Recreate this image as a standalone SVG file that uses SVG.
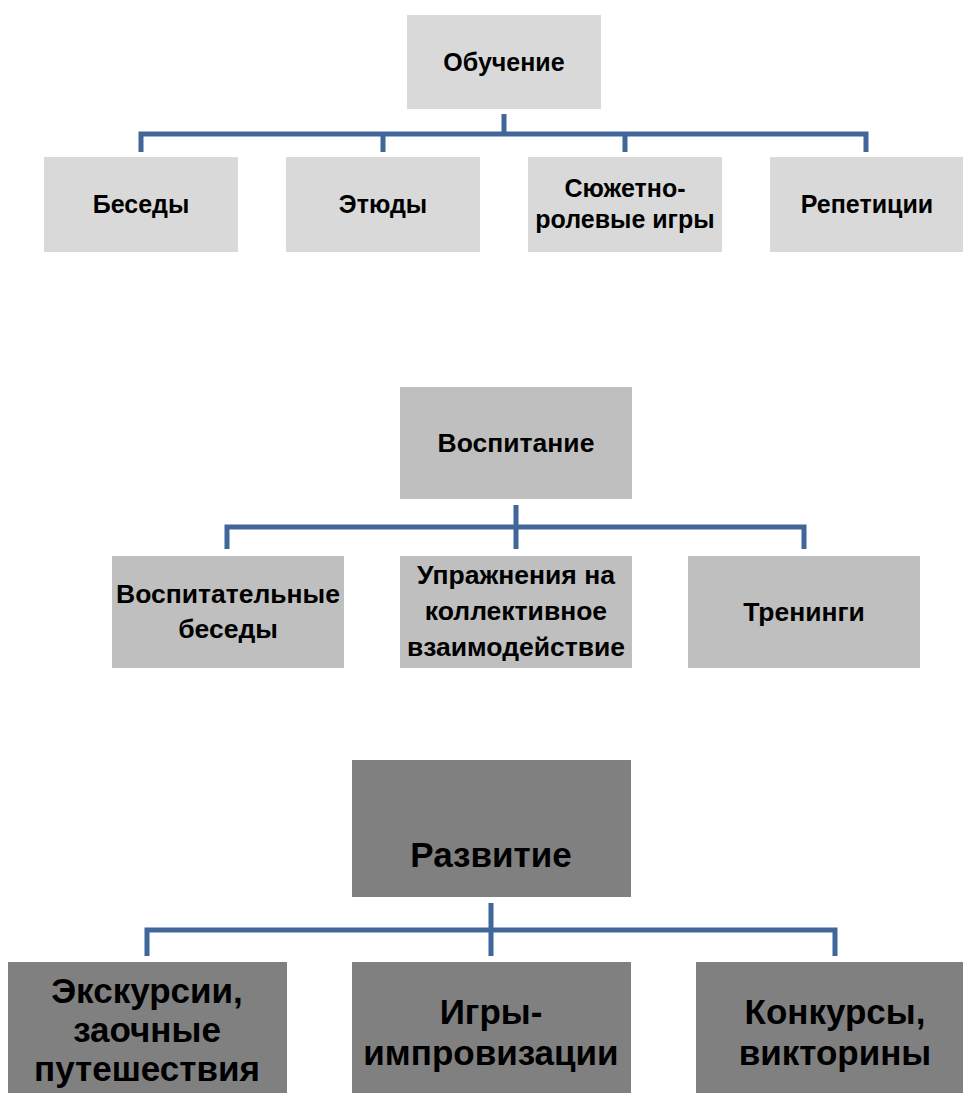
<svg xmlns="http://www.w3.org/2000/svg" width="963" height="1093" viewBox="0 0 963 1093">
<style>
.l1{fill:#D9D9D9}
.l2{fill:#BFBFBF}
.l3{fill:#808080}
.t{font-family:"Liberation Sans",Arial,sans-serif;font-weight:bold;fill:#000;text-anchor:middle}
.s1{font-size:25px}
.s2{font-size:26.5px}
.s3{font-size:35px}
.c{fill:none;stroke:#41679A;stroke-width:5;stroke-linejoin:miter;stroke-linecap:butt}
</style>
<rect width="963" height="1093" fill="#FFFFFF"/>
<g id="connectors">
<path class="c" d="M504 114V134M141 152V134H866V152M383 134V152M625 134V152"/>
<path class="c" d="M516 505V527M227 549V527H804V549M516 527V549"/>
<path class="c" d="M491 903V930M147 956V930H835V956M491 930V956"/>
</g>
<g id="obuchenie"><rect class="l1" x="407" y="15" width="194" height="94"/><text class="t s1" x="504" y="71">Обучение</text></g>
<g id="besedy"><rect class="l1" x="44" y="157" width="194" height="95"/><text class="t s1" x="141" y="213">Беседы</text></g>
<g id="etyudy"><rect class="l1" x="286" y="157" width="194" height="95"/><text class="t s1" x="383" y="213">Этюды</text></g>
<g id="syuzhetno"><rect class="l1" x="528" y="157" width="194" height="95"/><text class="t s1" x="625" y="197">Сюжетно-</text><text class="t s1" x="625" y="228">ролевые игры</text></g>
<g id="repeticii"><rect class="l1" x="770" y="157" width="194" height="95"/><text class="t s1" x="867" y="213">Репетиции</text></g>
<g id="vospitanie"><rect class="l2" x="400" y="387" width="232" height="112"/><text class="t s2" x="516" y="452">Воспитание</text></g>
<g id="vosp-besedy"><rect class="l2" x="112" y="556" width="232" height="112"/><text class="t s2" x="228" y="603">Воспитательные</text><text class="t s2" x="228" y="638">беседы</text></g>
<g id="uprazhneniya"><rect class="l2" x="400" y="556" width="232" height="112"/><text class="t s2" x="516" y="584">Упражнения на</text><text class="t s2" x="516" y="620">коллективное</text><text class="t s2" x="516" y="656">взаимодействие</text></g>
<g id="treningi"><rect class="l2" x="688" y="556" width="232" height="112"/><text class="t s2" x="804" y="621">Тренинги</text></g>
<g id="razvitie"><rect class="l3" x="352" y="760" width="279" height="137"/><text class="t s3" x="491" y="867">Развитие</text></g>
<g id="ekskursii"><rect class="l3" x="8" y="962" width="279" height="140"/><text class="t s3" x="147" y="1003">Экскурсии,</text><text class="t s3" x="147" y="1042">заочные</text><text class="t s3" x="147" y="1081">путешествия</text></g>
<g id="igry"><rect class="l3" x="352" y="962" width="279" height="140"/><text class="t s3" x="491" y="1024">Игры-</text><text class="t s3" x="491" y="1065">импровизации</text></g>
<g id="konkursy"><rect class="l3" x="696" y="962" width="279" height="140"/><text class="t s3" x="835" y="1024">Конкурсы,</text><text class="t s3" x="835" y="1065">викторины</text></g>
</svg>
